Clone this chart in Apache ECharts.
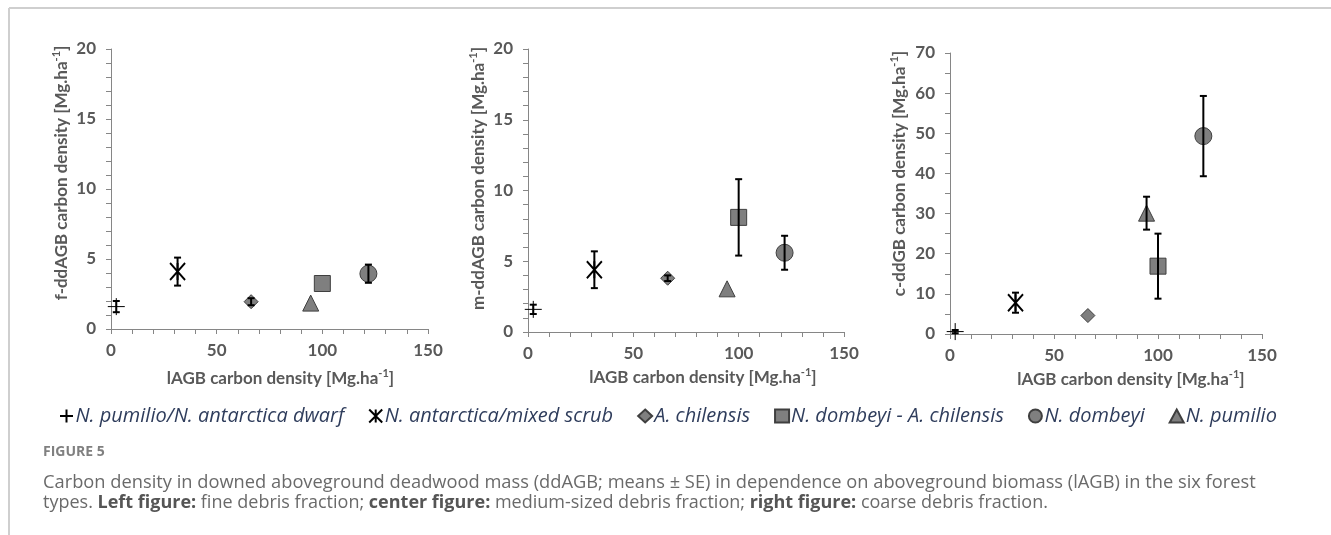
<!DOCTYPE html>
<html>
<head>
<meta charset="utf-8">
<script src="https://cdn.jsdelivr.net/npm/echarts@6/dist/echarts.min.js"></script>
<style>
  html, body { margin: 0; padding: 0; background: #fff; }
  #chart { width: 1331px; height: 535px; }
</style>
</head>
<body>
<div id="chart"></div>
<script>
// forest types, in legend order
const forestTypes = [
  'N. pumilio/N. antarctica dwarf',
  'N. antarctica/mixed scrub',
  'A. chilensis',
  'N. dombeyi - A. chilensis',
  'N. dombeyi',
  'N. pumilio'
];
// lAGB carbon density (x) per type
const lagb = [2.5, 31.5, 66.3, 100, 121.8, 94.5];

// fine debris (left panel), means and SE
const fineMean = [1.6, 4.1, 1.95, 3.25, 3.95, 1.85];
const fineSe = [0.4, 1.0, 0.25, 0, 0.65, 0];
// medium-sized debris (center panel)
const mediumMean = [1.6, 4.4, 3.8, 8.1, 5.6, 3.05];
const mediumSe = [0.33, 1.3, 0.2, 2.7, 1.2, 0];
// coarse debris (right panel)
const coarseMean = [0.6, 7.8, 4.6, 16.9, 49.3, 30.1];
const coarseSe = [0.4, 2.5, 0, 8.1, 10.0, 4.1];

const xTicks = [0, 50, 100, 150];
const yMaxes = [20, 20, 70];
const yIntervals = [5, 5, 10];

const markerGray = '#7f7f7f';
const markerEdge = '#3f3f3f';
const axisGray = '#868686';
const labelGray = '#595959';
const font = 'Lato, "Open Sans", sans-serif';
const captionFont = '"Open Sans", sans-serif';

const symbols = [
  { symbol: 'path://M0,5L10,5M5,0L5,10', size: 17, color: 'transparent', border: '#000', bw: 1 },
  { symbol: 'path://M0,0L10,10M10,0L0,10M5,0L5,10', size: [15, 17], color: 'transparent', border: '#000', bw: 2 },
  { symbol: 'diamond', size: 14, color: markerGray, border: markerEdge, bw: 1 },
  { symbol: 'rect', size: 16, color: markerGray, border: markerEdge, bw: 1 },
  { symbol: 'circle', size: 17, color: markerGray, border: markerEdge, bw: 1 },
  { symbol: 'triangle', size: 16, color: markerGray, border: markerEdge, bw: 1 }
];

const panels = [
  { mean: fineMean, se: fineSe, yName: 'f-ddAGB carbon density [Mg.ha{s|-1}]' },
  { mean: mediumMean, se: mediumSe, yName: 'm-ddAGB carbon density [Mg.ha{s|-1}]' },
  { mean: coarseMean, se: coarseSe, yName: 'c-ddGB carbon density [Mg.ha{s|-1}]' }
];

const grids = [
  { left: 111, top: 49, width: 317, height: 280 },
  { left: 528, top: 49, width: 316, height: 283 },
  { left: 950, top: 53, width: 312, height: 281 }
];
const xNameGap = [39, 34, 35];
const xNameShift = [22, 34, 50];
const yNameGap = [37, 37, 40];
const yNameShift = [32, 24, 40];

const nameRich = {
  s: { fontSize: 11, fontWeight: 'bold', color: labelGray, fontFamily: font, verticalAlign: 'top', lineHeight: 10 }
};

const xAxes = grids.map((g, k) => ({
  gridIndex: k,
  type: 'value',
  min: xTicks[0],
  max: xTicks[xTicks.length - 1],
  interval: xTicks[1] - xTicks[0],
  name: 'lAGB carbon density [Mg.ha{s|-1}]',
  nameLocation: 'middle',
  nameGap: xNameGap[k],
  nameTextStyle: {
    fontSize: 17, fontWeight: 'bold', color: labelGray, fontFamily: font,
    lineHeight: 21, padding: [0, 0, 0, xNameShift[k]], rich: nameRich
  },
  axisLine: { lineStyle: { color: axisGray, width: 1 } },
  axisTick: { show: true, length: 5, lineStyle: { color: axisGray } },
  minorTick: { show: true, splitNumber: 5, length: 5, lineStyle: { color: axisGray } },
  splitLine: { show: false },
  axisLabel: { fontSize: 17, fontWeight: 'bold', color: labelGray, fontFamily: font, margin: 13 }
}));

const yAxes = grids.map((g, k) => ({
  gridIndex: k,
  type: 'value',
  min: 0,
  max: yMaxes[k],
  interval: yIntervals[k],
  name: panels[k].yName,
  nameLocation: 'middle',
  nameGap: yNameGap[k],
  nameTextStyle: {
    fontSize: 17, fontWeight: 'bold', color: labelGray, fontFamily: font,
    lineHeight: 21, padding: [0, 0, 0, yNameShift[k]], rich: nameRich
  },
  axisLine: { show: true, lineStyle: { color: axisGray, width: 1 } },
  axisTick: { show: true, length: 5, lineStyle: { color: axisGray } },
  minorTick: { show: true, splitNumber: yIntervals[k] === 5 ? 5 : 2, length: 5, lineStyle: { color: axisGray } },
  splitLine: { show: false },
  axisLabel: { fontSize: 17, fontWeight: 'bold', color: labelGray, fontFamily: font, margin: 15 }
}));

const series = [];
panels.forEach((p, k) => {
  forestTypes.forEach((name, i) => {
    const s = symbols[i];
    series.push({
      name: name,
      type: 'scatter',
      xAxisIndex: k,
      yAxisIndex: k,
      symbol: s.symbol,
      symbolSize: s.size,
      itemStyle: { color: s.color, borderColor: s.border, borderWidth: s.bw, opacity: 1 },
      emphasis: { disabled: true },
      z: 2,
      data: [[lagb[i], p.mean[i]]]
    });
  });
  // error bars (mean +- SE), drawn over the markers
  series.push({
    type: 'custom',
    xAxisIndex: k,
    yAxisIndex: k,
    z: 3,
    silent: true,
    data: forestTypes.map((n, i) => [lagb[i], p.mean[i], p.se[i]]),
    renderItem: function (params, api) {
      const x = api.value(0), y = api.value(1), se = api.value(2);
      if (!se) return null;
      const hi = api.coord([x, y + se]);
      const lo = api.coord([x, y - se]);
      const w = 3.5;
      const st = { stroke: '#000', lineWidth: 2 };
      return {
        type: 'group',
        children: [
          { type: 'line', shape: { x1: hi[0], y1: hi[1], x2: lo[0], y2: lo[1] }, style: st },
          { type: 'line', shape: { x1: hi[0] - w, y1: hi[1], x2: hi[0] + w, y2: hi[1] }, style: st },
          { type: 'line', shape: { x1: lo[0] - w, y1: lo[1], x2: lo[0] + w, y2: lo[1] }, style: st }
        ]
      };
    }
  });
});

const chart = echarts.init(document.getElementById('chart'));
chart.setOption({
  animation: false,
  backgroundColor: '#fff',
  grid: grids,
  xAxis: xAxes,
  yAxis: yAxes,
  legend: {
    data: forestTypes,
    left: 54,
    top: 401,
    itemWidth: 14,
    itemHeight: 13,
    itemGap: 24,
    selectedMode: false,
    textStyle: {
      fontSize: 20,
      fontStyle: 'italic',
      color: '#2f3d5c',
      fontFamily: captionFont,
      padding: [0, 0, 0, -3]
    }
  },
  graphic: [
    { type: 'line', shape: { x1: 9, y1: 8, x2: 1331, y2: 8 }, style: { stroke: '#cfcfcf', lineWidth: 2 } },
    { type: 'line', shape: { x1: 9, y1: 8, x2: 9, y2: 535 }, style: { stroke: '#cfcfcf', lineWidth: 2 } },
    {
      type: 'text', left: 43, top: 445,
      style: { text: 'FIGURE 5', fontSize: 14, fontWeight: 'bold', fill: '#808080', fontFamily: captionFont }
    },
    {
      type: 'text', left: 43, top: 472,
      style: {
        text: 'Carbon density in downed aboveground deadwood mass (ddAGB; means \u00b1 SE) in dependence on aboveground biomass (lAGB) in the six forest',
        fontSize: 18.3, lineHeight: 21, fill: '#6a6a6a', fontFamily: captionFont
      }
    },
    {
      type: 'text', left: 43, top: 492,
      style: {
        text: 'types. {b|Left figure:} fine debris fraction; {b|center figure:} medium-sized debris fraction; {b|right figure:} coarse debris fraction.',
        fontSize: 18, lineHeight: 21, fill: '#6a6a6a', fontFamily: captionFont,
        rich: { b: { fontSize: 18, lineHeight: 21, fontWeight: 'bold', fill: '#555', fontFamily: captionFont } }
      }
    }
  ],
  series: series
});
</script>
</body>
</html>
